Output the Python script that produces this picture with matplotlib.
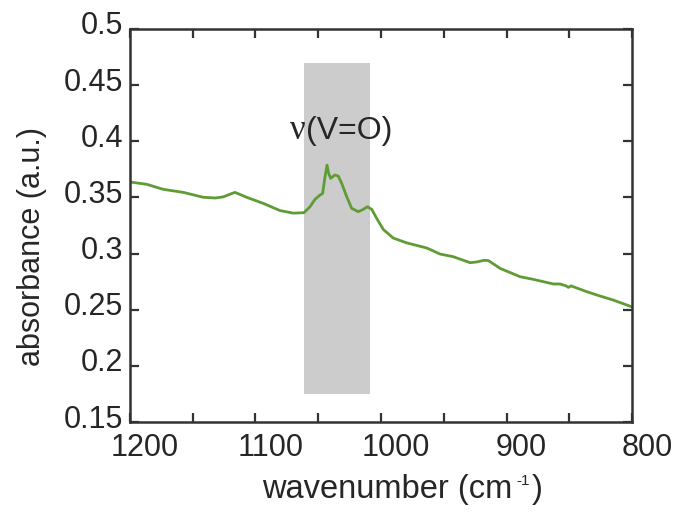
# IR spectrum with the V=O band highlighted
import matplotlib.pyplot as plt
import matplotlib.transforms as mtransforms

# Data
wavenumber = [1200, 1198.6, 1186.7, 1173.5, 1157.5, 1141.6, 1132.0, 1125.7, 1120.0,
              1116.3, 1111.0, 1107.0, 1093.8, 1080.5, 1069.9, 1061.4, 1056.6, 1052.6,
              1048.6, 1046.5, 1044.6, 1043.0, 1041.7, 1040.1, 1036.7, 1034.0, 1031.3,
              1027.3, 1023.4, 1018.1, 1014.1, 1010.9, 1007.4, 1003.4, 998.2, 990.2,
              979.5, 963.6, 953.0, 942.4, 929.0, 923.8, 918.0, 914.5, 910.0, 905.1,
              889.2, 878.5, 862.6, 857.3, 852.5, 850.7, 848.5, 836.2, 825.5, 814.9,
              800.0]
absorbance = [0.3640, 0.3635, 0.3617, 0.3572, 0.3545, 0.3501, 0.3495, 0.3505, 0.3530,
              0.3545, 0.3520, 0.3501, 0.3447, 0.3383, 0.3360, 0.3364, 0.3417, 0.3483,
              0.3521, 0.3536, 0.3684, 0.3788, 0.3714, 0.3670, 0.3700, 0.3690, 0.3625,
              0.3506, 0.3403, 0.3373, 0.3394, 0.3417, 0.3394, 0.3313, 0.3215, 0.3138,
              0.3095, 0.3050, 0.2996, 0.2972, 0.2919, 0.2925, 0.2940, 0.2938, 0.2905,
              0.2868, 0.2794, 0.2770, 0.2729, 0.2729, 0.2712, 0.2699, 0.2712, 0.2661,
              0.2622, 0.2586, 0.2525]

band_x = [1061, 1009]
band_y = [0.175, 0.47]

x_ticks = [1200, 1100, 1000, 900, 800]
x_minor = [1150, 1050, 950, 850]
y_ticks = [0.15, 0.2, 0.25, 0.3, 0.35, 0.4, 0.45, 0.5]
y_labels = ["0.15", "0.2", "0.25", "0.3", "0.35", "0.4", "0.45", "0.5"]

plt.rcParams["font.family"] = ["Liberation Sans", "DejaVu Sans"]
text_color = "#262626"

fig = plt.figure(figsize=(6.8, 5.16), dpi=100)
ax = fig.add_axes([130 / 680, 1 - 422 / 516, 502 / 680, 393 / 516])

ax.fill_between(band_x, band_y[0], band_y[1], color="#cccccc", linewidth=0, zorder=1)
ax.plot(wavenumber, absorbance, color="#5f9c35", linewidth=2.0, zorder=2,
        solid_joinstyle="round")

ax.text(1060, 0.402, "(V=O)", fontsize=23, color=text_color, ha="left", va="baseline")
ax.text(1060, 0.402, "ν", fontsize=25, color=text_color, ha="right", va="baseline",
        family=["Liberation Serif", "DejaVu Serif"])

ax.set_xlim(1200, 800)
ax.set_ylim(0.15, 0.5)
ax.set_xticks(x_ticks)
ax.set_xticks(x_minor, minor=True)
ax.set_yticks(y_ticks)
ax.set_yticklabels(y_labels)

ax.tick_params(axis="both", which="both", direction="in", top=True, right=True,
               length=6.5, width=1.6, color="#333333", labelsize=22,
               labelcolor=text_color)
ax.tick_params(axis="x", which="major", pad=8)
ax.tick_params(axis="y", which="major", pad=5)
for s in ax.spines.values():
    s.set_linewidth(1.8)
    s.set_color("#333333")

# the reference has its tick labels shifted a little
dx = mtransforms.ScaledTranslation(15 / 100, 0, fig.dpi_scale_trans)
for lab in ax.get_xticklabels():
    lab.set_transform(lab.get_transform() + dx)
dy = mtransforms.ScaledTranslation(0, 6 / 100, fig.dpi_scale_trans)
for lab in ax.get_yticklabels():
    lab.set_transform(lab.get_transform() + dy)

# x label with a small "-1" superscript
t1 = fig.text(262 / 680, 1 - 498 / 516, "wavenumber (cm", fontsize=23.5,
              color=text_color, ha="left", va="baseline")
t2 = ax.annotate("-1", xy=(1, 1 - 485 / 516), xycoords=(t1, "figure fraction"),
                 xytext=(4, 0), textcoords="offset pixels", fontsize=11,
                 color=text_color, ha="left", va="baseline", annotation_clip=False)
ax.annotate(")", xy=(1, 1 - 498 / 516), xycoords=(t2, "figure fraction"),
            xytext=(2, 0), textcoords="offset pixels", fontsize=23.5,
            color=text_color, ha="left", va="baseline", annotation_clip=False)

fig.text(32 / 680, 1 - 246 / 516, "absorbance (a.u.)", fontsize=22, rotation=90,
         color=text_color, ha="center", va="center")

fig.savefig("out.png", dpi=100)
